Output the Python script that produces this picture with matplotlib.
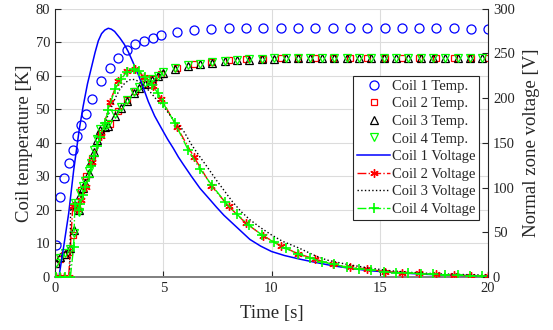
import matplotlib
matplotlib.use("Agg")
import matplotlib.pyplot as plt

plt.rcParams['font.family'] = ['Liberation Serif', 'DejaVu Serif']

# coil 1 / coil 2 sample times [s]
t_a = [0.05, 0.23, 0.42, 0.63, 0.82, 1.03, 1.22, 1.43, 1.71, 2.14,
       2.54, 2.91, 3.31, 3.71, 4.11, 4.51, 4.91, 5.62, 6.42, 7.22,
       8.02, 8.82, 9.62, 10.42, 11.22, 12.02, 12.82, 13.62, 14.42, 15.22,
       16.02, 16.82, 17.62, 18.42, 19.22, 20.0]
temp1 = [9.6, 23.9, 29.5, 34, 38, 41.9, 45.2, 48.6, 53.1, 58.3,
         62.3, 65.3, 67.6, 69.3, 70.4, 71.3, 72.1, 73.0, 73.7, 74.0,
         74.2, 74.3, 74.3, 74.3, 74.3, 74.2, 74.2, 74.2, 74.2, 74.2,
         74.2, 74.1, 74.1, 74.1, 74.0, 74.0]
temp2 = [4, 5.5, 6.5, 7.5, 12.5, 20.5, 26, 30, 35.5, 43,
         45.5, 49.5, 52.8, 55.5, 57.5, 59, 60.5, 62.3, 63.5, 64,
         64.6, 64.9, 65.1, 65.2, 65.3, 65.3, 65.3, 65.3, 65.3, 65.3,
         65.3, 65.3, 65.3, 65.3, 65.3, 65.3]
volt2 = [0, 0, 0, 0, 79, 76, 86, 101, 128, 158,
         196, 219, 230, 232, 224, 214, 199, 168, 134, 102,
         79, 60, 46, 35, 26, 20, 14, 11, 9, 6,
         5, 4, 3, 2, 1.5, 1.5]

# coil 3 / coil 4 sample times [s]
t_b = [0.05, 0.25, 0.48, 0.71, 0.86, 0.92, 1.09, 1.17, 1.3, 1.4,
       1.55, 1.67, 1.79, 1.94, 2.09, 2.3, 2.46, 2.77, 3.05, 3.31,
       3.66, 3.9, 4.16, 4.46, 4.74, 5.0, 5.54, 6.15, 6.69, 7.23,
       7.85, 8.4, 8.97, 9.55, 10.1, 10.66, 11.2, 11.8, 12.35, 12.9,
       13.5, 14.05, 14.6, 15.2, 15.75, 16.3, 16.9, 17.45, 18.0, 18.6,
       19.15, 19.7]
temp3 = [4.1, 6, 7, 8.5, 14, 21.4, 20, 24.5, 26.5, 28,
         31, 34.5, 37.4, 40.9, 43.9, 44.8, 45.1, 48.1, 50.5, 52.5,
         54.8, 56.3, 57.5, 58.8, 59.8, 60.8, 62, 63, 63.5, 63.9,
         64.3, 64.6, 64.8, 65, 65.1, 65.2, 65.2, 65.3, 65.3, 65.3,
         65.3, 65.3, 65.3, 65.3, 65.3, 65.3, 65.3, 65.3, 65.3, 65.3,
         65.3, 65.3]
temp4 = [4.3, 5.8, 7.2, 8.2, 13, 22, 19.5, 25, 27, 28.5,
         31.5, 34, 37.8, 41.2, 44.2, 45, 45.5, 48.5, 50.8, 52.9,
         55.2, 56.6, 57.8, 59, 60, 61, 62.2, 63.1, 63.6, 64,
         64.4, 64.7, 64.9, 65.1, 65.2, 65.2, 65.3, 65.3, 65.3, 65.3,
         65.3, 65.3, 65.3, 65.3, 65.3, 65.3, 65.3, 65.3, 65.3, 65.3,
         65.3, 65.3]
volt4 = [0, 0, 0, 0, 34, 82, 75, 82, 92, 101,
         112, 124, 135, 146, 157, 172, 187, 210, 221, 229,
         232, 230, 223, 215, 206, 194, 172, 142, 121, 103,
         84, 70, 58, 47, 39, 32, 26, 21, 17, 14,
         11, 9, 8, 6, 5, 4.5, 3.8, 3, 2.6, 1.9,
         1.5, 1.1]

# coil 1 voltage
t_v1 = [0, 0.18, 0.4, 0.63, 0.86, 1.12, 1.3, 1.5, 1.7, 1.85,
        2.0, 2.15, 2.3, 2.46, 2.6, 2.75, 3.0, 3.2, 3.38, 3.6,
        3.85, 4.1, 4.31, 4.6, 4.92, 5.2, 5.46, 5.7, 5.92, 6.3,
        6.7, 7.1, 7.46, 7.8, 8.2, 8.6, 9.0, 9.5, 10.0, 10.6,
        11.3, 12.0, 12.8, 13.6, 14.5, 15.5, 16.5, 17.5, 18.5, 19.3,
        20.0]
volt1 = [0, 0, 34, 71, 119, 165, 191, 216, 236, 251,
         264, 272, 276, 278, 277, 274.5, 267, 260, 252, 240,
         226, 210, 196, 180, 166, 154, 144, 134, 126, 112.5,
         99, 88, 78, 69, 60, 51, 42, 34.5, 28.5, 24,
         20, 16.5, 12.7, 9.8, 7.1, 5.2, 3.8, 2.6, 1.9, 1.5,
         1.1]

# coil 3 voltage
t_v3 = [0, 0.68, 0.72, 1.0, 1.4, 1.8, 2.1, 2.4, 2.8, 3.0,
        3.2, 3.4, 3.54, 3.7, 3.9, 4.1, 4.39, 4.7, 5.0, 5.4,
        5.92, 6.3, 6.7, 7.0, 7.46, 7.8, 8.2, 8.6, 9.0, 9.5,
        10.0, 10.5, 11.3, 12.0, 12.55, 13.5, 14.5, 15.5, 16.5, 17.5,
        18.5, 20.0]
volt3 = [0, 0, 75, 77, 101, 131, 154, 178, 201, 210,
         216, 220, 221, 220.5, 218, 214, 207, 198, 191, 178,
         164, 148, 134, 124, 108, 97, 84, 73, 64, 55,
         47, 40, 32, 24, 19, 14, 10, 7, 5, 3.8,
         3, 2]

txt = '#262626'

fig = plt.figure(figsize=(5.53, 3.3), dpi=100)
ax = fig.add_axes([0.0995, 0.1606, 0.7830, 0.8134])
ax2 = ax.twinx()

h1, = ax.plot(t_a, temp1, 'o', ls='none', mfc='none', mec='blue', ms=6.5, mew=0.9, label='Coil 1 Temp.')
h2, = ax.plot(t_a, temp2, 's', ls='none', mfc='none', mec='red', ms=5, mew=0.9, label='Coil 2 Temp.')
h3, = ax.plot(t_b, temp3, '^', ls='none', mfc='none', mec='black', ms=6, mew=0.9, label='Coil 3 Temp.')
h4, = ax.plot(t_b, temp4, 'v', ls='none', mfc='none', mec='#00ff00', ms=6, mew=0.9, label='Coil 4 Temp.')

h5, = ax2.plot(t_v1, volt1, '-', color='blue', lw=1.1, label='Coil 1 Voltage')
h6, = ax2.plot(t_a, volt2, '-.', color='red', lw=1.0, marker=(6, 2, 0), ms=6, mew=1.0, label='Coil 2 Voltage')
h7, = ax2.plot(t_v3, volt3, ':', color='black', lw=1.0, label='Coil 3 Voltage')
h8, = ax2.plot(t_b, volt4, '-.', color='#00ff00', lw=1.0, marker='+', ms=7, mew=1.2, label='Coil 4 Voltage')

ax.set_xlim(0, 20)
ax.set_ylim(0, 80)
ax2.set_ylim(0, 300)
ax.set_xticks([0, 5, 10, 15, 20])
ax.set_yticks(range(0, 81, 10))
ax2.set_yticks(range(0, 301, 50))

ax.grid(True, color='#dcdcdc', lw=0.8)
ax.set_axisbelow(True)

for a in (ax, ax2):
    a.tick_params(direction='in', length=4, width=0.8, colors=txt, labelsize=10.5, labelcolor=txt)
    a.spines['top'].set_visible(False)
ax.spines['left'].set_color(txt)
ax2.spines['right'].set_color(txt)
ax.spines['bottom'].set_color('#7f7f7f')
ax.spines['bottom'].set_linewidth(1.4)
ax2.spines['bottom'].set_visible(False)
ax2.spines['left'].set_visible(False)
ax.spines['right'].set_visible(False)

ax.set_xlabel('Time [s]', fontsize=13.5, color=txt, labelpad=7.5)
ax.set_ylabel('Coil temperature [K]', fontsize=13.5, color=txt, labelpad=2)
ax2.set_ylabel('Normal zone voltage [V]', fontsize=13.5, color=txt, labelpad=5.5)

leg = ax2.legend(handles=[h1, h2, h3, h4, h5, h6, h7, h8], loc='upper right',
                 bbox_to_anchor=(0.866, 0.7697), bbox_transform=fig.transFigure,
                 borderaxespad=0, fontsize=10.5, handlelength=2.3, handletextpad=0.1,
                 borderpad=0.25, labelspacing=0.3, fancybox=False, framealpha=1,
                 edgecolor=txt)
leg.get_frame().set_linewidth(0.8)
for t in leg.get_texts():
    t.set_color(txt)

fig.savefig('out.png', dpi=100)
